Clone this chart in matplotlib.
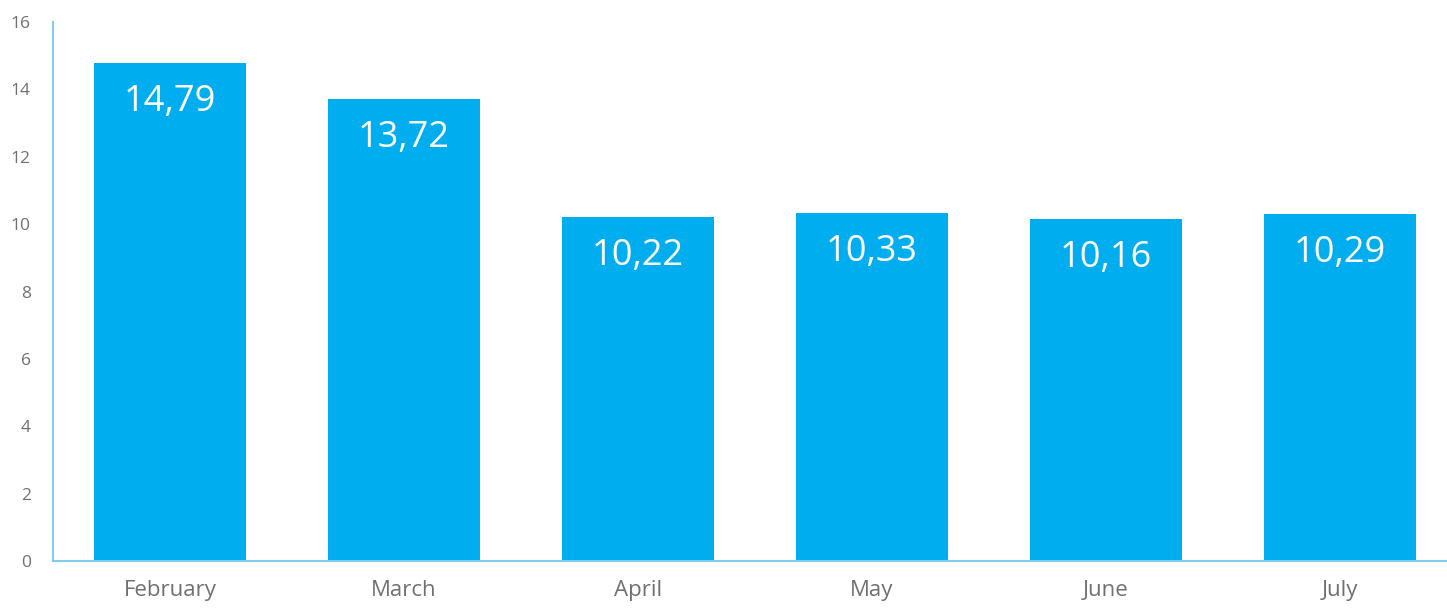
import matplotlib
matplotlib.use("Agg")
import matplotlib.pyplot as plt

months = ["February", "March", "April", "May", "June", "July"]
values = [14.79, 13.72, 10.22, 10.33, 10.16, 10.29]
value_labels = ["14,79", "13,72", "10,22", "10,33", "10,16", "10,29"]

plt.rcParams['font.family'] = ['Open Sans', 'DejaVu Sans']

fig = plt.figure(figsize=(14.47, 6.08), dpi=100)
ax = fig.add_axes([53 / 1447, (608 - 561) / 608, 1404 / 1447, 539 / 608])

bar_color = "#00aeef"
spine_color = "#7fcdf3"

x = range(len(months))
ax.bar(x, values, width=0.65, color=bar_color)

for i, (v, lab) in enumerate(zip(values, value_labels)):
    ax.annotate(lab, (i, v), xytext=(0, -39), textcoords="offset pixels",
                ha="center", va="center", color="white", fontsize=26)

ax.set_xlim(-0.5, len(months) - 0.5)
ax.set_ylim(0, 16)
ax.set_yticks(range(0, 17, 2))
ax.set_xticks(list(x))
ax.set_xticklabels(months, fontsize=16, color="#707070")
ax.tick_params(axis="y", labelsize=12.5, labelcolor="#707070", length=0, pad=16)
ax.tick_params(axis="x", length=0, pad=14)

for side in ["top", "right"]:
    ax.spines[side].set_visible(False)
for side in ["left", "bottom"]:
    ax.spines[side].set_color(spine_color)
    ax.spines[side].set_linewidth(1.5)

fig.savefig("out.png", dpi=100)
